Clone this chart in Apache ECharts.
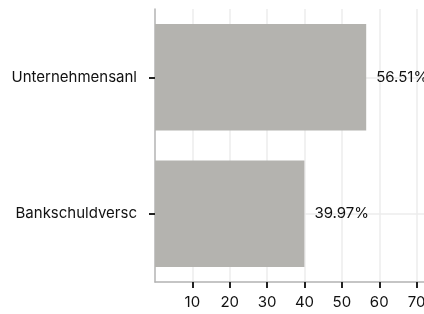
<!DOCTYPE html>
<html>
<head>
<meta charset="utf-8">
<script src="https://cdn.jsdelivr.net/npm/echarts@6/dist/echarts.min.js"></script>
<style>
  html, body { margin: 0; padding: 0; background: #fff; }
  #chart { width: 424px; height: 314px; }
</style>
</head>
<body>
<div id="chart"></div>
<script>
// bottom to top
const categories = ['Bankschuldversc', 'Unternehmensanl'];
const shares = [39.97, 56.51];
const xTicks = [10, 20, 30, 40, 50, 60, 70, 80];

const font = 'Inter, "Noto Sans", sans-serif';

let myChart = echarts.init(document.getElementById('chart'));
myChart.setOption({
  animation: false,
  grid: {
    left: 155,
    top: 9,
    width: 299,
    height: 273,
    containLabel: false,
    outerBoundsMode: 'none'
  },
  xAxis: {
    type: 'value',
    min: 0,
    max: 80,
    interval: 10,
    axisLine: { show: true, lineStyle: { color: '#b3b3b3', width: 1.5 } },
    axisTick: { show: true, length: 6, customValues: xTicks, lineStyle: { color: '#222', width: 2 } },
    axisLabel: { customValues: xTicks, margin: 13, color: '#111', fontFamily: font, fontSize: 15 },
    splitLine: { show: true, lineStyle: { color: '#ececec', width: 1.5 } }
  },
  yAxis: {
    type: 'category',
    data: categories,
    axisLine: { show: true, lineStyle: { color: '#b3b3b3', width: 1.5 } },
    axisTick: { show: true, alignWithLabel: true, length: 6, lineStyle: { color: '#222', width: 2 } },
    axisLabel: { margin: 18, color: '#111', fontFamily: font, fontSize: 15 },
    splitLine: { show: false }
  },
  series: [
    {
      type: 'bar',
      data: shares,
      z: 2,
      barCategoryGap: '22%',
      itemStyle: { color: '#b4b3af' },
      label: {
        show: true,
        position: 'right',
        distance: 10,
        color: '#111',
        fontFamily: font,
        fontSize: 15,
        formatter: p => p.value + '%'
      },
      markLine: {
        silent: true,
        z: 1,
        symbol: 'none',
        label: { show: false },
        lineStyle: { color: '#ececec', width: 1.5, type: 'solid' },
        data: categories.map(c => ({ yAxis: c }))
      }
    }
  ]
});
</script>
</body>
</html>
